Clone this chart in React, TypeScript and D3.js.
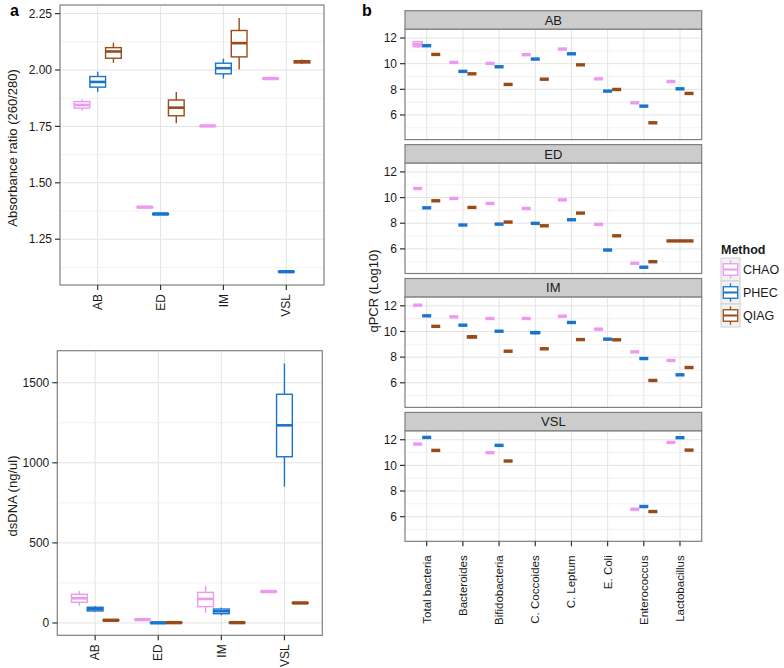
import React from 'react';
import * as d3 from 'd3';

const FONT = '"Liberation Sans", Arial, Helvetica, sans-serif';

const methods = ['CHAO', 'PHEC', 'QIAG'];
const methodColors = ['#EC9AF0', '#1874CD', '#9A4A16'];
const samples = ['AB', 'ED', 'IM', 'VSL'];

// Absorbance ratio: [lower whisker, q1, median, q3, upper whisker] per sample
const absCHAO = [[1.819, 1.831, 1.845, 1.860, 1.870], [1.389, 1.390, 1.392, 1.393, 1.394], [1.750, 1.751, 1.752, 1.753, 1.754], [1.958, 1.959, 1.962, 1.964, 1.966]];
const absPHEC = [[1.903, 1.924, 1.947, 1.971, 1.992], [1.358, 1.359, 1.362, 1.364, 1.366], [1.962, 1.983, 2.008, 2.030, 2.050], [1.104, 1.105, 1.106, 1.107, 1.108]];
const absQIAG = [[2.032, 2.052, 2.082, 2.099, 2.121], [1.764, 1.797, 1.833, 1.867, 1.902], [2.002, 2.058, 2.119, 2.175, 2.230], [2.026, 2.031, 2.037, 2.041, 2.046]];

// dsDNA (ng/ul)
const dnaCHAO = [[108, 129, 154, 179, 200], [19, 20, 21, 22, 23], [64, 102, 150, 191, 233], [192, 194, 196, 198, 200]];
const dnaPHEC = [[70, 75, 87, 98, 104], [0, 0, 1, 1, 2], [48, 58, 73, 87, 96], [851, 1038, 1234, 1428, 1620]];
const dnaQIAG = [[14, 15, 17, 19, 20], [1, 1, 2, 3, 3], [1, 1, 2, 3, 3], [122, 123, 125, 127, 128]];

// qPCR (Log10) medians
const targets = ['Total bacteria', 'Bacteroides', 'Bifidobacteria', 'C. Coccoides', 'C. Leptum', 'E. Coli', 'Enterococcus', 'Lactobacillus'];
const qAB_CHAO = [11.53, 10.10, 10.02, 10.70, 11.14, 8.82, 6.95, 8.61];
const qAB_PHEC = [11.40, 9.40, 9.76, 10.36, 10.77, 7.86, 6.69, 8.04];
const qAB_QIAG = [10.72, 9.21, 8.38, 8.79, 9.91, 7.99, 5.39, 7.68];
const qED_CHAO = [10.71, 9.93, 9.54, 9.15, 9.82, 7.91, 4.88, null];
const qED_PHEC = [9.20, 7.86, 7.93, 7.99, 8.27, 5.91, 4.57, null];
const qED_QIAG = [9.75, 9.23, 8.09, 7.80, 8.79, 7.02, 5.00, 6.62];
const qIM_CHAO = [12.05, 11.14, 11.01, 11.01, 11.19, 10.18, 8.41, 7.74];
const qIM_PHEC = [11.22, 10.49, 10.02, 9.90, 10.70, 9.40, 7.89, 6.62];
const qIM_QIAG = [10.40, 9.58, 8.46, 8.65, 9.37, 9.35, 6.18, 7.19];
const qVSL_CHAO = [11.66, null, 10.99, null, null, null, 6.58, 11.79];
const qVSL_PHEC = [12.18, null, 11.56, null, null, null, 6.79, 12.16];
const qVSL_QIAG = [11.17, null, 10.34, null, null, null, 6.40, 11.19];
// boxes with visible spread: [lower whisker, q1, median, q3, upper whisker]
const qSpreadKeys = ['AB|Total bacteria|CHAO', 'IM|Bacteroides|QIAG', 'IM|C. Coccoides|PHEC'];
const qSpreadStats = [[11.22, 11.32, 11.50, 11.72, 11.80], [9.45, 9.50, 9.58, 9.66, 9.72], [9.78, 9.85, 9.90, 9.98, 10.06]];

const absTicks = [1.25, 1.5, 1.75, 2.0, 2.25];
const dnaTicks = [0, 500, 1000, 1500];
const qTicks = [6, 8, 10, 12];

const qData: Record<string, (number | null)[][]> = {
  AB: [qAB_CHAO, qAB_PHEC, qAB_QIAG],
  ED: [qED_CHAO, qED_PHEC, qED_QIAG],
  IM: [qIM_CHAO, qIM_PHEC, qIM_QIAG],
  VSL: [qVSL_CHAO, qVSL_PHEC, qVSL_QIAG],
};

const GRID_MAJOR = '#E4E4E4';
const GRID_MINOR = '#F2F2F2';
const BORDER = '#7F7F7F';

function Box({ cx, w, s, y, color, medW = 2.6 }: any) {
  const [lo, q1, med, q3, hi] = s;
  const x0 = cx - w / 2;
  const flat = y(q1) - y(q3) < 2;
  return (
    <g stroke={color} fill="#fff">
      <line x1={cx} x2={cx} y1={y(hi)} y2={y(q3)} strokeWidth={1.4} />
      <line x1={cx} x2={cx} y1={y(q1)} y2={y(lo)} strokeWidth={1.4} />
      <rect x={x0} y={y(q3)} width={w} height={Math.max(0, y(q1) - y(q3))} strokeWidth={1.4} />
      <line x1={x0} x2={x0 + w} y1={y(med)} y2={y(med)} strokeWidth={flat ? Math.max(medW, 3.4) : medW} />
    </g>
  );
}

function Grid({ x0, x1, y0, y1, xs, yScale, ticks }: any) {
  const minors = ticks.slice(0, -1).map((t: number, i: number) => (t + ticks[i + 1]) / 2);
  const step = ticks[1] - ticks[0];
  const extra = [ticks[0] - step / 2, ticks[ticks.length - 1] + step / 2];
  const [d0, d1] = yScale.domain();
  const allMinor = [...minors, ...extra].filter((v) => v > d0 && v < d1);
  return (
    <g>
      <rect x={x0} y={y0} width={x1 - x0} height={y1 - y0} fill="#fff" />
      {allMinor.map((v: number, i: number) => (
        <line key={'m' + i} x1={x0} x2={x1} y1={yScale(v)} y2={yScale(v)} stroke={GRID_MINOR} strokeWidth={1} />
      ))}
      {ticks.map((v: number, i: number) => (
        <line key={'y' + i} x1={x0} x2={x1} y1={yScale(v)} y2={yScale(v)} stroke={GRID_MAJOR} strokeWidth={1} />
      ))}
      {xs.map((v: number, i: number) => (
        <line key={'x' + i} x1={v} x2={v} y1={y0} y2={y1} stroke={GRID_MAJOR} strokeWidth={1} />
      ))}
    </g>
  );
}

function YAxis({ x, yScale, ticks, fmt }: any) {
  return (
    <g>
      {ticks.map((v: number, i: number) => (
        <g key={i}>
          <line x1={x - 5} x2={x} y1={yScale(v)} y2={yScale(v)} stroke="#333" strokeWidth={1.2} />
          <text x={x - 8} y={yScale(v)} dy="0.35em" textAnchor="end" fontSize={12} fill="#1a1a1a" fontFamily={FONT}>{fmt(v)}</text>
        </g>
      ))}
    </g>
  );
}

function XAxis({ y, xScale, cats, gap, fs = 12 }: any) {
  return (
    <g>
      {cats.map((c: string, i: number) => (
        <g key={i}>
          <line x1={xScale(c)} x2={xScale(c)} y1={y} y2={y + 5} stroke="#333" strokeWidth={1.2} />
          <text transform={`translate(${xScale(c)},${y + 5 + gap}) rotate(-90)`} dy="0.35em" textAnchor="end" fontSize={fs} fill="#1a1a1a" fontFamily={FONT}>{c}</text>
        </g>
      ))}
    </g>
  );
}

function LeftPanel({ x0, x1, y0, y1, domain, ticks, fmt, data, title, titleY }: any) {
  const xScale = d3.scalePoint<string>().domain(samples).range([x0, x1]).padding(0.6);
  const yScale = d3.scaleLinear().domain(domain).range([y1, y0]);
  const step = xScale.step();
  const w = step * 0.25;
  return (
    <g>
      <Grid x0={x0} x1={x1} y0={y0} y1={y1} xs={samples.map((s) => xScale(s))} yScale={yScale} ticks={ticks} />
      {samples.map((s, si) =>
        methods.map((m, mi) => (
          <Box key={s + m} cx={(xScale(s) as number) + (mi - 1) * w} w={w} s={data[mi][si]} y={yScale} color={methodColors[mi]} />
        ))
      )}
      <rect x={x0} y={y0} width={x1 - x0} height={y1 - y0} fill="none" stroke={BORDER} strokeWidth={1.2} />
      <YAxis x={x0} yScale={yScale} ticks={ticks} fmt={fmt} />
      <XAxis y={y1} xScale={xScale} cats={samples} gap={4} />
      <text transform={`translate(17,${titleY}) rotate(-90)`} textAnchor="middle" fontSize={13} fill="#1a1a1a" fontFamily={FONT}>{title}</text>
    </g>
  );
}

function RightPanel() {
  const x0 = 405, x1 = 701.7;
  const stripH = 18.6, panelH = 110.3, facetStep = 133.9, top = 10.7;
  const xScale = d3.scalePoint<string>().domain(targets).range([x0, x1]).padding(0.6);
  const step = xScale.step();
  const dodge = step * 0.75;
  return (
    <g>
      {samples.map((s, fi) => {
        const sy = top + fi * facetStep;
        const py0 = sy + stripH;
        const py1 = py0 + panelH;
        const yScale = d3.scaleLinear().domain([4.08, 12.68]).range([py1, py0]);
        const arrs = qData[s];
        return (
          <g key={s}>
            <rect x={x0} y={sy} width={x1 - x0} height={stripH} fill="#CCCCCC" stroke={BORDER} strokeWidth={1.2} />
            <text x={(x0 + x1) / 2} y={sy + stripH / 2} dy="0.36em" textAnchor="middle" fontSize={13} fill="#1a1a1a" fontFamily={FONT}>{s}</text>
            <Grid x0={x0} x1={x1} y0={py0} y1={py1} xs={targets.map((t) => xScale(t))} yScale={yScale} ticks={qTicks} />
            {targets.map((t, ti) => {
              const present = methods.map((m, mi) => mi).filter((mi) => arrs[mi][ti] != null);
              const n = present.length;
              const w = dodge / Math.max(n, 1);
              return present.map((mi, k) => {
                const v = arrs[mi][ti] as number;
                const key = `${s}|${t}|${methods[mi]}`;
                const si = qSpreadKeys.indexOf(key);
                const stats = si >= 0 ? qSpreadStats[si] : [v, v, v, v, v];
                const cx = (xScale(t) as number) - dodge / 2 + w * (k + 0.5);
                return <Box key={key} cx={cx} w={w} s={stats} y={yScale} color={methodColors[mi]} medW={3.4} />;
              });
            })}
            <rect x={x0} y={py0} width={x1 - x0} height={panelH} fill="none" stroke={BORDER} strokeWidth={1.2} />
            <YAxis x={x0} yScale={yScale} ticks={qTicks} fmt={(v: number) => String(v)} />
            {fi === samples.length - 1 && <XAxis y={py1} xScale={xScale} cats={targets} gap={9} fs={11.5} />}
          </g>
        );
      })}
      <text transform={`translate(378,291) rotate(-90)`} textAnchor="middle" fontSize={13} fill="#1a1a1a" fontFamily={FONT}>qPCR (Log10)</text>
    </g>
  );
}

function Legend() {
  const lx = 721, ly = 258, kw = 19, kh = 23;
  return (
    <g fontFamily={FONT}>
      <text x={lx} y={254} fontSize={12.5} fontWeight="bold" fill="#1a1a1a">Method</text>
      {methods.map((m, i) => {
        const y = ly + i * kh;
        const c = methodColors[i];
        const bx0 = lx + kw * 0.12, bw = kw * 0.76;
        return (
          <g key={m}>
            <rect x={lx} y={y} width={kw} height={kh} fill="#F2F2F2" stroke="#D0D0D0" strokeWidth={1} />
            <g stroke={c} fill="#fff" strokeWidth={1.3}>
              <line x1={lx + kw / 2} x2={lx + kw / 2} y1={y + kh * 0.1} y2={y + kh * 0.9} />
              <rect x={bx0} y={y + kh * 0.25} width={bw} height={kh * 0.5} />
              <line x1={bx0} x2={bx0 + bw} y1={y + kh / 2} y2={y + kh / 2} strokeWidth={2} />
            </g>
            <text x={lx + kw + 3} y={y + kh / 2} dy="0.36em" fontSize={12.5} fill="#1a1a1a">{m}</text>
          </g>
        );
      })}
    </g>
  );
}

export default function App() {
  return (
    <svg width={784} height={668} style={{ position: 'absolute', left: 0, top: 0, background: '#fff' }}>
      <rect width={784} height={668} fill="#fff" />
      <text x={10} y={16} fontSize={16} fontWeight="bold" fontFamily={FONT} fill="#000">a</text>
      <text x={362} y={16} fontSize={16} fontWeight="bold" fontFamily={FONT} fill="#000">b</text>
      <LeftPanel x0={60} x1={324} y0={5} y1={285} domain={[1.047, 2.288]} ticks={absTicks}
        fmt={(v: number) => v.toFixed(2)} data={[absCHAO, absPHEC, absQIAG]} title="Absorbance ratio (260/280)" titleY={148} />
      <LeftPanel x0={57.3} x1={322.3} y0={350.7} y1={635.3} domain={[-77, 1700]} ticks={dnaTicks}
        fmt={(v: number) => String(v)} data={[dnaCHAO, dnaPHEC, dnaQIAG]} title="dsDNA (ng/ul)" titleY={496} />
      <RightPanel />
      <Legend />
    </svg>
  );
}
